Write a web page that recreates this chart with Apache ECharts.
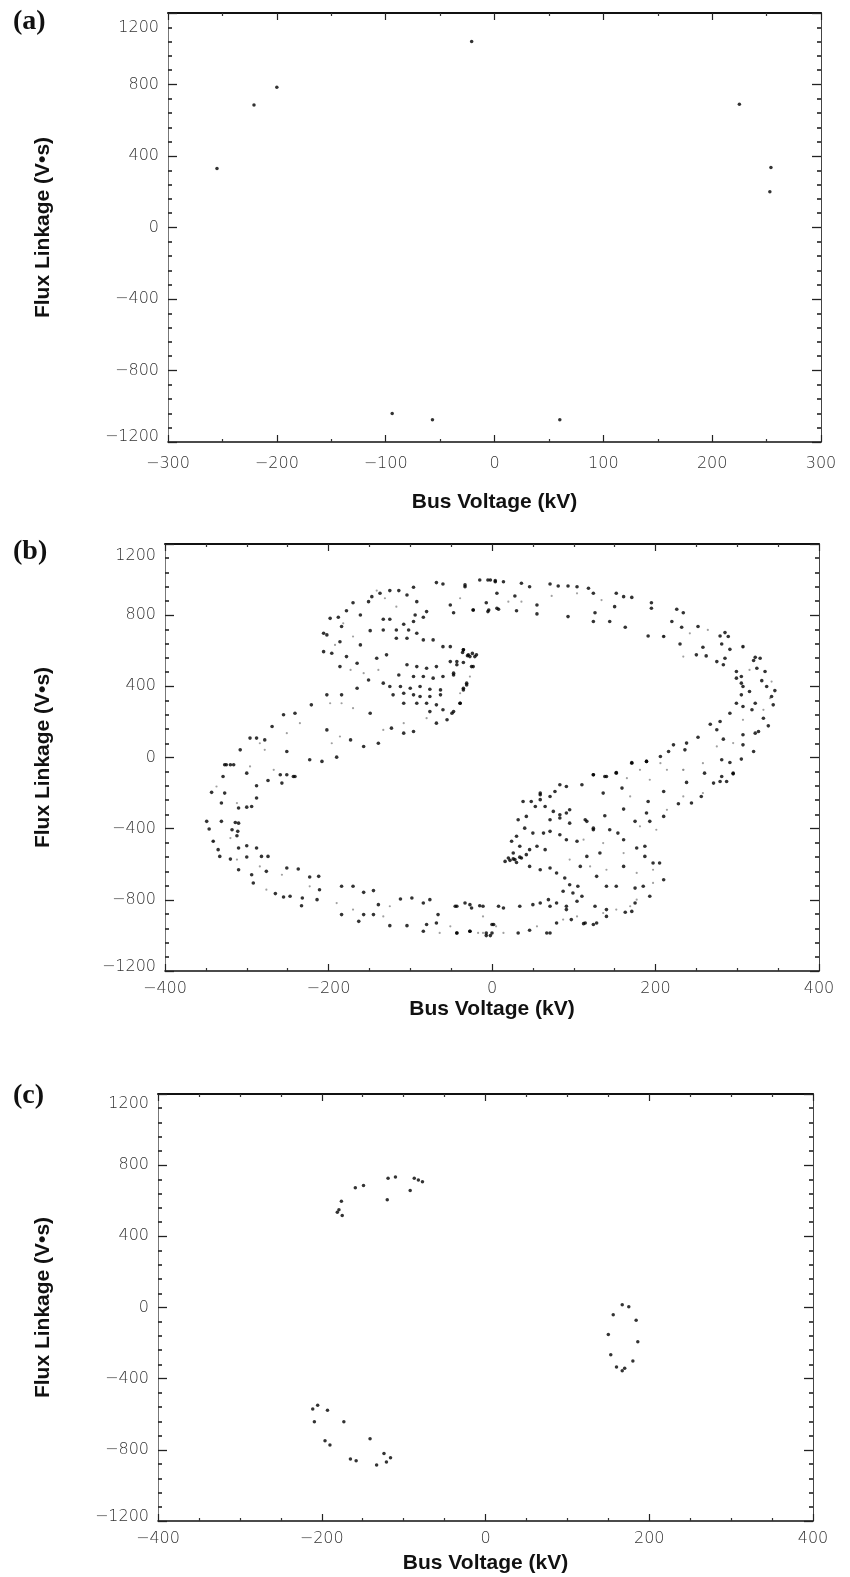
<!DOCTYPE html>
<html>
<head>
<meta charset="utf-8">
<script src="https://cdn.jsdelivr.net/npm/echarts@6/dist/echarts.min.js"></script>
<style>
  html, body { margin: 0; padding: 0; background: #fff; }
  #chart { width: 850px; height: 1577px; }
</style>
</head>
<body>
<div id="chart"></div>
<script>
// ---- Data: bus voltage (kV) and flux linkage (V·s) samples for each case ----

// (a) isolated points
const voltageA = [-255, -221, -200, -21, 225, 254, 253, -94, -57, 60];
const fluxA    = [ 330,  685,  785, 1040, 690, 335, 200, -1040, -1075, -1075];

// (b) dense figure-eight band: dark samples
const voltageB = [
  -68,-60,-33,-2,4,-96,-125,-114,-137,-147,-170,-151,-104,-92,-51,-47,-23,-4,6,-178,-198,-188,-161,-133,-125,-108,-96,-84,-94,-80,
  -206,-202,-184,-149,-133,-117,-102,-92,-117,-104,-84,-72,-60,-51,-35,-29,-21,-51,-43,-35,-25,-206,-196,-186,-178,-129,-161,-186,-165,-141,
  -104,-92,-80,-68,-114,-96,-84,-72,-60,-47,-151,-133,-125,-112,-100,-88,-76,-63,-31,-35,-121,-108,-96,-88,-76,-63,-165,-184,-202,-108,
  -92,-80,-68,-39,-60,-49,-68,-55,-76,-149,-123,-108,-96,-173,-157,-139,-221,-241,-255,-269,-202,-296,-288,-278,-308,-251,-223,-208,-190,-327,
  -320,-243,-259,
  -19,-27,-35,-43,-23,-47,-31,-35,-39,-47,-33,-5,4,14,-15,36,46,71,81,93,104,118,124,152,161,171,-7,6,28,-23,
  -5,8,30,55,55,93,126,124,144,150,163,195,195,191,210,220,226,234,232,230,252,258,262,250,275,283,279,285,289,281,
  291,285,307,322,328,320,324,334,330,346,336,342,344,299,305,299,305,307,315,305,299,307,318,322,332,338,326,322,307,307,
  320,305,281,295,291,279,267,275,252,238,222,236,216,206,189,171,152,140,124,283,260,291,
  -325,-316,-329,-300,-274,-257,-251,-241,-288,-343,-327,-288,-331,-310,-300,-294,-349,-331,-314,-310,-346,-318,-311,-312,-341,-335,-310,-300,-288,-333,
  -320,-300,-282,-274,-310,-294,-276,-292,-265,-255,-247,-233,-251,-237,-223,-212,-232,-214,-211,-184,-170,-145,-157,-184,-163,-157,-145,-139,-112,-98,
  -84,-76,-125,-104,-84,-80,-68,-66,-45,-33,-25,-15,-43,-27,-7,0,0,8,
  171,189,152,138,124,110,91,83,77,59,48,59,65,75,83,91,95,116,124,138,161,175,193,210,228,244,271,279,287,295,
  281,238,256,136,159,191,210,189,20,28,36,16,46,55,65,46,59,71,79,89,95,105,87,99,110,69,79,59,30,24,
  34,50,63,71,83,91,104,71,83,95,114,124,144,154,161,177,187,187,197,210,205,175,161,128,140,152,108,116,132,185,
  193,175,163,171,140,128,114,140,126,104,91,71,50,34,14,-11,-27,-43,-27,-43,-7,-2,2,32,46,67,71,79,97,112,
  124,91,26,42,53,42,32,40,59,38,71,
  -36,-30,-24,22,30,26,34
];
const fluxB = [
  983,975,960,998,988,957,938,938,923,904,870,876,913,876,857,814,829,829,839,825,782,788,801,777,777,749,764,788,801,820,
  698,689,736,713,717,717,717,698,670,670,661,661,623,623,605,577,567,539,521,534,511,595,586,651,567,577,633,511,530,558,
  521,511,502,511,464,455,455,446,455,464,436,418,399,399,389,399,384,380,408,380,352,361,352,343,343,352,389,352,352,305,
  305,305,296,305,268,249,193,212,258,249,165,137,146,99,62,80,296,249,240,174,155,109,109,99,43,34,-13,-22,2,-41,
  -41,-107,-97,
  577,567,605,539,511,474,418,389,305,258,970,998,994,988,998,979,960,975,964,964,960,951,923,923,904,900,870,923,908,829,
  820,833,825,857,807,792,814,764,764,848,732,870,839,683,680,764,833,814,732,638,736,620,571,577,539,521,683,702,680,638,
  608,558,623,563,558,545,502,483,432,376,399,343,296,483,455,446,418,399,371,352,305,287,268,305,221,178,146,137,128,71,
  34,-9,-13,-88,249,202,187,156,114,81,71,43,34,6,-22,-28,-84,-107,-97,103,-88,-28,
  -41,-41,-107,-88,-129,-144,-97,-107,-159,-196,-200,-228,-256,-284,-279,-275,-359,-359,-365,-369,-402,-406,-415,-440,-471,-518,-509,-496,-509,-556,
  -571,-559,-556,-556,-631,-659,-640,-705,-765,-784,-780,-833,-621,-627,-672,-668,-790,-799,-743,-724,-724,-748,-758,-883,-921,-883,-883,-827,-795,-790,
  -818,-799,-945,-945,-977,-939,-930,-883,-836,-818,-846,-833,-986,-977,-1001,-986,-939,-836,
  -32,-22,-88,-107,-97,-153,-163,-153,-191,-200,-247,-237,-275,-303,-322,-312,-369,-359,-406,-327,-290,-359,-359,-331,-260,-256,-144,-135,-135,-92,
  -107,-140,-219,-200,-172,-247,-191,-312,-565,-574,-565,-584,-518,-499,-518,-612,-631,-621,-649,-677,-715,-724,-752,-762,-780,-799,-818,-818,-443,-471,
  -499,-425,-425,-415,-434,-462,-471,-350,-340,-294,-350,-397,-406,-425,-462,-509,-499,-556,-593,-687,-593,-734,-612,-668,-724,-724,-612,-556,-537,-724,
  -780,-818,-870,-865,-893,-930,-930,-855,-836,-808,-836,-836,-827,-836,-846,-836,-827,-836,-977,-986,-986,-1001,-939,-986,-971,-986,-986,-930,-911,-934,
  -939,-855,-537,-546,-275,-331,-350,-397,-209,-247,-219,
  590,572,585,-578,-590,-570,-560
];

// (b) faint samples along the same band
const voltageBFaint = [
  -141,-131,-117,-182,-192,-170,-173,-157,-139,-198,-184,-170,-235,-251,-284,-278,-267,-296,-196,-186,-133,-108,-80,-39,-27,
  -39,20,36,73,104,134,210,234,242,264,307,315,342,340,332,307,295,275,258,234,206,181,165,
  -337,-312,-341,-320,-284,-312,-276,-257,-223,-190,-170,-133,-125,-64,-51,-17,-11,
  -11,5,14,55,87,104,136,152,169,177,197,197,177,140,120,95,161,136,112,181,201,214,234,258,169,193,214,234
];
const fluxBFaint = [
  938,895,848,754,633,680,492,474,492,305,305,277,193,137,80,43,-69,-50,80,118,155,193,221,361,455,
  895,876,876,908,923,885,683,567,698,717,620,492,427,333,268,212,81,62,-32,-69,-32,-69,-116,
  -163,-256,-471,-453,-612,-574,-743,-659,-724,-818,-855,-893,-836,-986,-949,-986,-893,
  -986,-949,-986,-949,-911,-893,-874,-855,-836,-799,-705,-631,-649,-631,-612,-574,-537,-481,-462,-387,-406,-294,-219,-200,-219,-125,-69,-69
];

// (c) three small clusters
const voltageC = [
  -176,-181,-175,-179,-149,-159,-120,-119,-110,-92,-87,-77,-82,
  -211,-205,-193,-209,-173,-196,-190,-165,-158,-141,-133,-124,-121,-116,
  167,175,156,184,150,186,153,160,167,180,170
];
const fluxC = [
  597,535,517,549,686,673,605,727,733,658,727,707,716,
  -570,-550,-577,-642,-642,-749,-773,-852,-862,-738,-885,-821,-869,-844,
  15,4,-41,-71,-152,-193,-265,-335,-355,-301,-341
];

// ---- Axis scales ----
const fluxTicks = [-1200, -800, -400, 0, 400, 800, 1200];
const voltageTicksA = [-300, -200, -100, 0, 100, 200, 300];
const voltageTicksBC = [-400, -200, 0, 200, 400];

const panelNames = ['(a)', '(b)', '(c)'];
const xTitle = 'Bus Voltage (kV)';
const yTitle = 'Flux Linkage (V\u2022s)';

const panels = [
  { name: panelNames[0], xs: voltageA, ys: fluxA, xt: voltageTicksA, minorX: 2 },
  { name: panelNames[1], xs: voltageB, ys: fluxB, xt: voltageTicksBC, minorX: 4, faint: [voltageBFaint, fluxBFaint] },
  { name: panelNames[2], xs: voltageC, ys: fluxC, xt: voltageTicksBC, minorX: 4 }
];

// Page layout of the three stacked plots
const layouts = [
  { left: 168, top: 13,   width: 653, height: 429, xGap: 50, xMargin: 14, yGap: 114, topPad: 30, botPad: 10, tag: [33, 24] },
  { left: 165, top: 544,  width: 654, height: 427, xGap: 28, xMargin: 10, yGap: 111, topPad: 24, botPad: 8,  tag: [33, 554] },
  { left: 158, top: 1094, width: 655, height: 427, xGap: 32, xMargin: 10, yGap: 104, topPad: 20, botPad: 8,  tag: [33, 1098] }
];

const tickFont = { fontFamily: 'DejaVu Sans', fontSize: 16, fontWeight: 200, color: '#333' };
const titleFont = { fontFamily: 'Liberation Sans', fontSize: 21, fontWeight: 'bold', color: '#111' };
const num = v => (v < 0 ? '\u2212' + Math.abs(v) : String(v));

const grid = [], xAxis = [], yAxis = [], series = [], graphic = [];

panels.forEach((p, i) => {
  const L = layouts[i];
  grid.push({ left: L.left, top: L.top, width: L.width, height: L.height, containLabel: false });

  const xMin = p.xt[0], xMax = p.xt[p.xt.length - 1], xInt = p.xt[1] - p.xt[0];
  const yMin = fluxTicks[0], yMax = fluxTicks[fluxTicks.length - 1], yInt = fluxTicks[1] - fluxTicks[0];

  const xBase = {
    gridIndex: i, type: 'value', min: xMin, max: xMax, interval: xInt,
    splitLine: { show: false },
    axisTick: { inside: true, length: 7, lineStyle: { color: '#222', width: 1.2 } },
    minorTick: { show: true, splitNumber: p.minorX, length: 3, lineStyle: { color: '#333', width: 1.2 } }
  };
  xAxis.push(Object.assign({}, xBase, {
    position: 'bottom',
    axisLine: { onZero: false, lineStyle: { color: '#111', width: 1.6 } },
    axisLabel: Object.assign({ margin: L.xMargin, formatter: num }, tickFont),
    name: xTitle, nameLocation: 'middle', nameGap: L.xGap, nameTextStyle: titleFont
  }));
  xAxis.push(Object.assign({}, xBase, {
    position: 'top',
    axisLine: { onZero: false, lineStyle: { color: '#111', width: 2 } },
    axisLabel: { show: false }
  }));

  const yBase = {
    gridIndex: i, type: 'value', min: yMin, max: yMax, interval: yInt,
    splitLine: { show: false },
    axisTick: { inside: true, length: 9, lineStyle: { color: '#222', width: 1.3 } },
    minorTick: { show: true, splitNumber: 5, length: 4, lineStyle: { color: '#222', width: 1.6 } }
  };
  // the end labels sit a little inside the frame
  const yLabelFmt = v => (v === yMax ? '{hi|' + num(v) + '}' : v === yMin ? '{lo|' + num(v) + '}' : num(v));
  yAxis.push(Object.assign({}, yBase, {
    position: 'left',
    axisLine: { onZero: false, lineStyle: { color: '#777', width: 1 } },
    axisLabel: Object.assign({
      margin: 9, formatter: yLabelFmt,
      rich: {
        hi: Object.assign({ padding: [L.topPad, 0, 0, 0] }, tickFont),
        lo: Object.assign({ padding: [0, 0, L.botPad, 0] }, tickFont)
      }
    }, tickFont),
    name: yTitle, nameLocation: 'middle', nameGap: L.yGap, nameRotate: 90, nameTextStyle: titleFont
  }));
  yAxis.push(Object.assign({}, yBase, {
    position: 'right',
    axisLine: { onZero: false, lineStyle: { color: '#444', width: 1 } },
    axisLabel: { show: false }
  }));

  if (p.faint) {
    series.push({
      type: 'scatter', xAxisIndex: 2 * i, yAxisIndex: 2 * i,
      symbol: 'circle', symbolSize: 2.2, silent: true,
      itemStyle: { color: '#888' },
      data: p.faint[0].map((x, k) => [x, p.faint[1][k]])
    });
  }
  series.push({
    type: 'scatter',
    xAxisIndex: 2 * i, yAxisIndex: 2 * i,
    symbol: 'circle', symbolSize: i === 1 ? 3.6 : 3.5,
    itemStyle: { color: '#000' },
    silent: true,
    data: p.xs.map((x, k) => [x, p.ys[k]])
  });

  graphic.push({
    type: 'text', left: L.tag[0] - 20, top: L.tag[1] - 16,
    style: { text: p.name, font: 'bold 28px "Liberation Serif"', fill: '#111' }
  });
});

const chart = echarts.init(document.getElementById('chart'), null, { renderer: 'canvas' });
chart.setOption({
  backgroundColor: '#fff',
  animation: false,
  grid, xAxis, yAxis, series, graphic
});
</script>
</body>
</html>
